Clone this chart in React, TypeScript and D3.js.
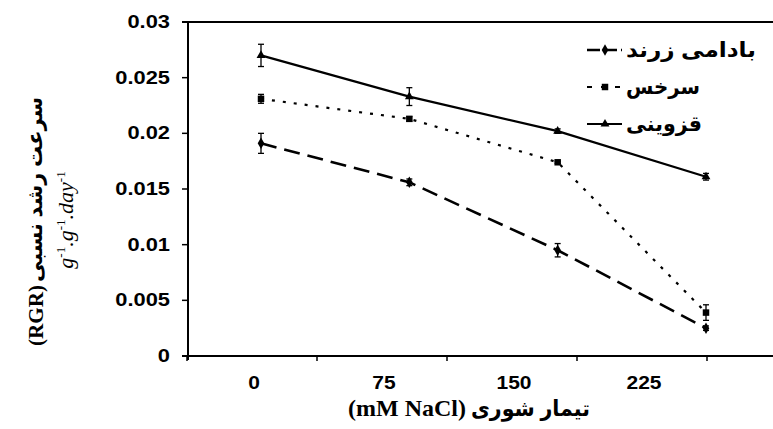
import React, { useEffect, useRef } from "react";
import * as d3 from "d3";

// salinity levels (mM NaCl)
const categories = ["0", "75", "150", "225"];

// relative growth rate per cultivar, with error bars
const badamiValues = [0.0191, 0.0156, 0.0095, 0.0025];
const badamiErrors = [0.0009, 0.0003, 0.0006, 0.0002];
const sorkhesValues = [0.0231, 0.0213, 0.0174, 0.0039];
const sorkhesErrors = [0.0004, 0.0002, 0.0001, 0.0007];
const qazviniValues = [0.027, 0.0233, 0.0202, 0.0161];
const qazviniErrors = [0.001, 0.0008, 0.0002, 0.0003];

const seriesNames = ["بادامی زرند", "سرخس", "قزوینی"];
const yTicks = [0, 0.005, 0.01, 0.015, 0.02, 0.025, 0.03];

const W = 773;
const H = 429;
const SANS = "'Liberation Sans', Arial, 'DejaVu Sans', sans-serif";
const SERIF = "'Liberation Serif', 'Times New Roman', serif";

const Chart = () => {
  const ref = useRef<SVGSVGElement | null>(null);

  useEffect(() => {
    const svg = d3.select(ref.current);
    svg.selectAll("*").remove();

    const left = 188, top = 22, bottom = 356, right = 790;

    const y = d3.scaleLinear().domain([0, 0.03]).range([bottom, top]);
    // axis categories (labels sit between tick marks)
    const xBand = d3.scaleBand().domain(categories).range([187, 707]);
    // data points (the scanned figure has them offset from the labels)
    const xPt = d3.scalePoint().domain(categories).range([261, 706]);

    const series = [
      { name: seriesNames[0], values: badamiValues, errors: badamiErrors, dash: "16,8", legendDash: "13,4", width: 2.6, symbol: d3.symbolDiamond, size: 38 },
      { name: seriesNames[1], values: sorkhesValues, errors: sorkhesErrors, dash: "3,8", legendDash: "5,9", width: 2.2, symbol: d3.symbolSquare, size: 42 },
      { name: seriesNames[2], values: qazviniValues, errors: qazviniErrors, dash: null, legendDash: null, width: 2.2, symbol: d3.symbolTriangle, size: 34 },
    ];

    // frame: top border, left axis, bottom axis
    svg.append("line").attr("x1", left - 6).attr("x2", right).attr("y1", top).attr("y2", top)
      .attr("stroke", "#000").attr("stroke-width", 2.2);
    svg.append("line").attr("x1", left).attr("x2", left).attr("y1", top).attr("y2", bottom + 4)
      .attr("stroke", "#000").attr("stroke-width", 2);
    svg.append("line").attr("x1", left - 6).attr("x2", right).attr("y1", bottom).attr("y2", bottom)
      .attr("stroke", "#000").attr("stroke-width", 2);

    // y ticks (scanned labels are stretched sideways)
    const yt = svg.append("g");
    yTicks.forEach((t) => {
      yt.append("line").attr("x1", left - 6).attr("x2", left).attr("y1", y(t)).attr("y2", y(t))
        .attr("stroke", "#000").attr("stroke-width", 1.5);
      yt.append("g").attr("transform", `translate(170,${y(t)}) scale(1.25,1)`)
        .append("text").attr("dy", "0.35em")
        .attr("text-anchor", "end").attr("font-family", SANS).attr("font-weight", "bold")
        .attr("font-size", 17.5).text(t === 0 ? "0" : String(+t.toFixed(3)));
    });

    // x ticks at band boundaries, labels at band centres
    const bounds = categories.map((c) => xBand(c) as number).concat([xBand.range()[1]]);
    bounds.forEach((b) => {
      svg.append("line").attr("x1", b).attr("x2", b).attr("y1", bottom).attr("y2", bottom + 5)
        .attr("stroke", "#000").attr("stroke-width", 1.5);
    });
    categories.forEach((c) => {
      svg.append("g")
        .attr("transform", `translate(${(xBand(c) as number) + xBand.bandwidth() / 2 + 2},383) scale(1.2,1)`)
        .append("text").attr("dy", "0.35em").attr("text-anchor", "middle").attr("font-family", SANS)
        .attr("font-weight", "bold").attr("font-size", 17.5).text(c);
    });

    // series
    series.forEach((s) => {
      const g = svg.append("g");
      const line = d3.line<number>().x((_, i) => xPt(categories[i]) as number).y((d) => y(d));
      g.append("path").attr("d", line(s.values)).attr("fill", "none").attr("stroke", "#000")
        .attr("stroke-width", s.width).attr("stroke-dasharray", s.dash);
      s.values.forEach((v, i) => {
        const cx = xPt(categories[i]) as number;
        const e = s.errors[i];
        g.append("line").attr("x1", cx).attr("x2", cx).attr("y1", y(v - e)).attr("y2", y(v + e))
          .attr("stroke", "#000").attr("stroke-width", 1.3);
        [v - e, v + e].forEach((ev) => {
          g.append("line").attr("x1", cx - 3).attr("x2", cx + 3).attr("y1", y(ev)).attr("y2", y(ev))
            .attr("stroke", "#000").attr("stroke-width", 1.3);
        });
        g.append("path").attr("d", d3.symbol().type(s.symbol).size(s.size)())
          .attr("transform", `translate(${cx},${y(v)})`).attr("fill", "#000");
      });
    });

    // legend: marker on the left, Persian name on the right
    const legendY = [50, 87, 124];
    const legendTextWidth = [130, 74, 76];
    series.forEach((s, i) => {
      const ly = legendY[i];
      const g = svg.append("g");
      g.append("line").attr("x1", 587).attr("x2", 622).attr("y1", ly).attr("y2", ly)
        .attr("stroke", "#000").attr("stroke-width", s.width).attr("stroke-dasharray", s.legendDash);
      g.append("path").attr("d", d3.symbol().type(s.symbol).size(s.size)())
        .attr("transform", `translate(605,${ly})`).attr("fill", "#000");
      g.append("text").attr("x", 626).attr("y", ly).attr("dy", "0.35em")
        .attr("text-anchor", "start").attr("font-family", SANS).attr("font-weight", "bold")
        .attr("font-size", 21).attr("textLength", legendTextWidth[i])
        .attr("lengthAdjust", "spacingAndGlyphs").text(s.name);
    });

    // x title: "(mM NaCl)" in serif + Persian
    svg.append("text").attr("x", 466).attr("y", 408).attr("dy", "0.35em").attr("text-anchor", "end")
      .attr("font-family", SERIF).attr("font-weight", "bold").attr("font-size", 24).text("(mM NaCl)");
    svg.append("text").attr("x", 471).attr("y", 408).attr("dy", "0.35em").attr("text-anchor", "start")
      .attr("font-family", SANS).attr("font-weight", "bold").attr("font-size", 22)
      .attr("textLength", 119).attr("lengthAdjust", "spacingAndGlyphs").text("تیمار شوری");

    // y title, rotated
    const yl = svg.append("g").attr("transform", "translate(35,0) rotate(-90)");
    yl.append("text").attr("x", -346).attr("y", 0).attr("dy", "0.35em").attr("text-anchor", "start")
      .attr("font-family", SERIF).attr("font-weight", "bold").attr("font-size", 22)
      .attr("textLength", 61).attr("lengthAdjust", "spacingAndGlyphs").text("(RGR)");
    yl.append("text").attr("x", -282).attr("y", 0).attr("dy", "0.35em").attr("text-anchor", "start")
      .attr("font-family", SANS).attr("font-weight", "bold").attr("font-size", 21)
      .attr("textLength", 185).attr("lengthAdjust", "spacingAndGlyphs").text("سرعت رشد نسبی");

    const unit = svg.append("g").attr("transform", "translate(73,0) rotate(-90)")
      .append("text").attr("x", -220).attr("y", 0).attr("dy", "0.35em").attr("text-anchor", "middle")
      .attr("font-family", SERIF).attr("font-style", "italic").attr("font-size", 22);
    const parts = ["g", "-1", ".g", "-1", ".day", "-1"];
    parts.forEach((p, i) => {
      const sup = i % 2 === 1;
      unit.append("tspan").attr("font-size", sup ? 13 : 22).attr("font-style", sup ? "normal" : "italic")
        .attr("dy", sup ? -8 : i === 0 ? 0 : 8).text(p);
    });
  }, []);

  return (
    <svg ref={ref} width={W} height={H} style={{ position: "absolute", left: 0, top: 0, background: "#fff" }} />
  );
};

export default function App() {
  return <Chart />;
}
